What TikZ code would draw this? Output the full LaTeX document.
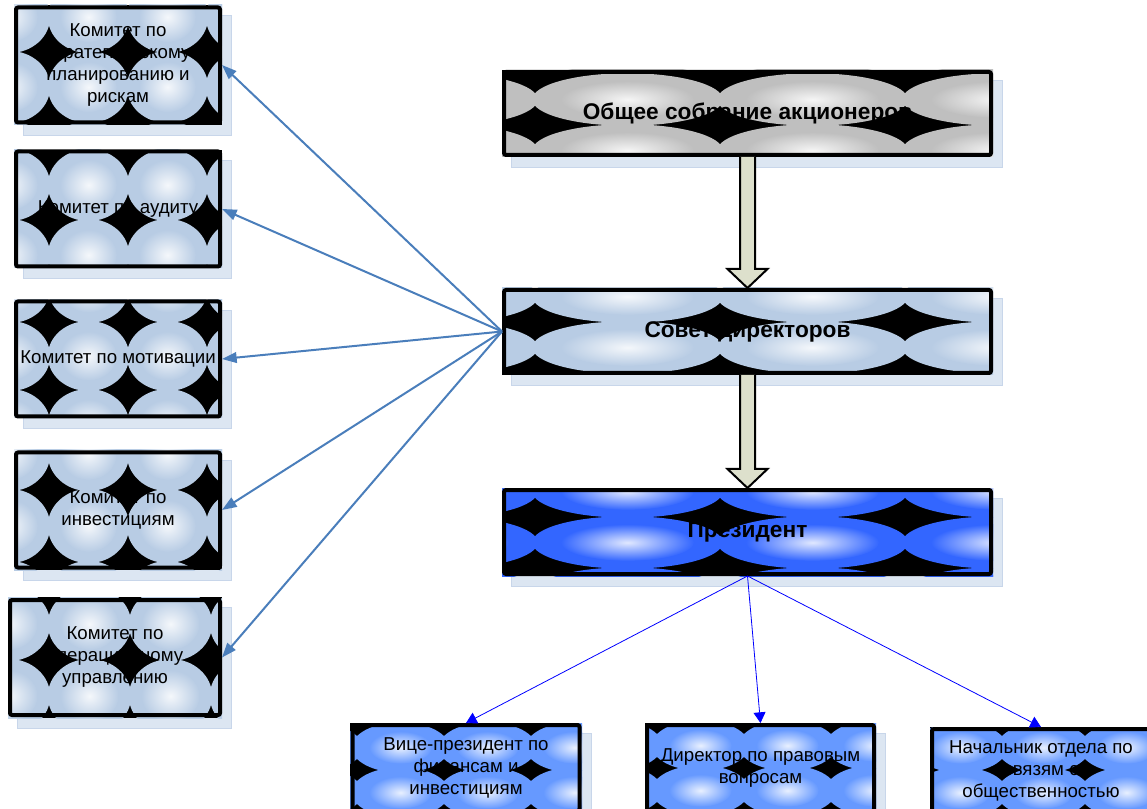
\documentclass[tikz,border=0pt]{standalone}
\usepackage{fontspec}
\setmainfont{Liberation Sans}
\usetikzlibrary{arrows.meta,calc}

\definecolor{paleblue}{HTML}{B8CCE4}
\definecolor{silver}{HTML}{BFBFBF}
\definecolor{royal}{HTML}{3366FF}
\definecolor{sky}{HTML}{6699FF}
\definecolor{shadowblue}{HTML}{DCE6F2}
\definecolor{shadowedge}{HTML}{C8D6EA}
\definecolor{linkblue}{HTML}{4A7EBB}
\definecolor{olive}{HTML}{DDE0CC}

\newcommand{\ovalsize}{0.515}

% shadow, black ground and shaded ovals (each cut to its tile) clipped to a box
\newcommand{\ovalgrid}[9]{%
  \fill[shadowblue, draw=shadowedge, line width=0.5pt] (#1+9,#2+10) rectangle (#3+9,#4+10);
  \begin{scope}
    \clip (#1,#2) rectangle (#3,#4);
    \fill[black] (#1,#2) rectangle (#3,#4);
    \foreach \i in {-2,...,3} {
      \foreach \j in {-2,...,2} {
        \begin{scope}
          \clip (\i*#6+#8,\j*#7+#9) rectangle (\i*#6+#8+#6,\j*#7+#9+#7);
          \fill[#5] (\i*#6+#8+#6/2,\j*#7+#9+#7/2) ellipse [x radius=\ovalsize*#6, y radius=\ovalsize*#7];
          \shade[inner color=#5!15!white, outer color=#5]
            (\i*#6+#8+#6/2,\j*#7+#9+#7/2) ellipse [x radius=0.36*#6, y radius=0.36*#7];
        \end{scope}
      }
    }
  \end{scope}
}

% hollow block arrow between two boxes
\newcommand{\fatarrow}[2]{%
  \draw[fat] ($(#1.south)+(-7.5,0)$) -- ($(#2.north)+(-7.5,-19)$) -- ($(#2.north)+(-20,-19)$)
    -- (#2.north) -- ($(#2.north)+(20,-19)$) -- ($(#2.north)+(7.5,-19)$) -- ($(#1.south)+(7.5,0)$);
}

\tikzset{
  box/.style={draw=black, line width=3pt, rounded corners=1.5pt, align=center, inner sep=0pt},
  committee/.style={box, minimum width=204*0.75pt, minimum height=115*0.75pt, font=\fontsize{14}{16.5}\selectfont},
  wide/.style={box, minimum width=487*0.75pt, minimum height=83*0.75pt, font=\bfseries\fontsize{17}{19}\selectfont},
  officer/.style={box, minimum width=227*0.75pt, minimum height=86*0.75pt, font=\fontsize{14}{16.5}\selectfont},
  link/.style={draw=linkblue, line width=1.5pt, -{Triangle[length=11pt,width=8pt]}},
  thinlink/.style={draw=blue, line width=0.6pt, -{Triangle[length=8pt,width=9pt]}},
  fat/.style={fill=olive, draw=black, line width=1.5pt}
}

\begin{document}
\begin{tikzpicture}[x=0.75pt,y=-0.75pt]
\useasboundingbox (0,0) rectangle (1147,809);

% Committees on the left
\ovalgrid{14}{5}{222}{125}{paleblue}{79}{70}{49}{52}
\ovalgrid{14}{150}{222}{268}{paleblue}{79}{70}{49}{220}
\ovalgrid{14}{300}{222}{418}{paleblue}{79}{68}{49}{322}
\ovalgrid{14}{450}{222}{570}{paleblue}{79}{72}{49}{490}
\ovalgrid{8}{597}{222}{718}{paleblue}{81}{72}{49}{660}
\node[committee] (k1) at (118,65) {Комитет по\\стратегическому\\планированию и\\рискам};
\node[committee] (k2) at (118,209) {Комитет по аудиту};
\node[committee] (k3) at (118,359) {Комитет по мотивации};
\node[committee] (k4) at (118,510) {Комитет по\\инвестициям};
\node[committee, minimum width=210*0.75pt] (k5) at (115,657.5) {Комитет по\\операционному\\управлению};

% Main chain
\ovalgrid{502}{70}{993}{157}{silver}{185}{51}{535}{125}
\ovalgrid{502}{288}{993}{375}{paleblue}{185}{51}{535}{322}
\ovalgrid{502}{488}{993}{576}{royal}{185}{51}{535}{517}
\node[wide] (meeting) at (747.5,113.5) {Общее собрание акционеров};
\node[wide] (board) at (747.5,331.5) {Совет директоров};
\node[wide, minimum height=84*0.75pt] (pres) at (747.5,532) {Президент};

% Officers under the president
\renewcommand{\ovalsize}{0.56}
\ovalgrid{350}{723}{582}{813}{sky}{87}{45}{357}{770}
\ovalgrid{645}{723}{876}{813}{sky}{87}{45}{657}{768}
\ovalgrid{930}{727}{1152}{815}{sky}{83}{45}{1002}{770}
\node[officer] (b1) at (466,768) {Вице-президент по\\финансам и\\инвестициям};
\node[officer] (b2) at (760.5,768) {Директор по правовым\\вопросам};
\node[officer, minimum width=218*0.75pt, minimum height=84*0.75pt] (b3) at (1041,771) {Начальник отдела по\\связям с\\общественностью};

% Block arrows
\fatarrow{meeting}{board}
\fatarrow{board}{pres}

% Connectors
\foreach \k in {1,...,5}
  \draw[link] (board.west) -- (k\k.east);
\foreach \b in {1,2,3}
  \draw[thinlink] (pres.south) -- (b\b.north);

\end{tikzpicture}
\end{document}
